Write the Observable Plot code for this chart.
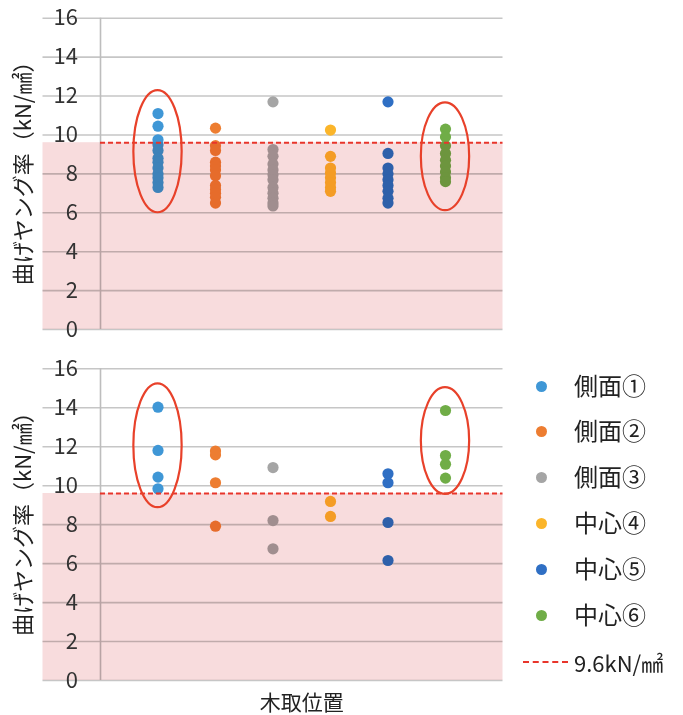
<!DOCTYPE html>
<html><head><meta charset="utf-8">
<script src="https://cdn.jsdelivr.net/npm/d3@7"></script>
<script src="https://cdn.jsdelivr.net/npm/@observablehq/plot@0.6"></script>
<style>
body{margin:0;background:#fff;font-family:"Noto Sans CJK JP","Noto Sans",sans-serif;}
#wrap{position:relative;width:683px;height:715px;overflow:hidden;background:#fff;}
.plot{position:absolute;left:0;}
.leg{position:absolute;left:0;width:683px;height:0;}
.leg .dot{position:absolute;left:536px;width:11px;height:11px;border-radius:50%;margin-top:-5.5px;}
.leg .txt{position:absolute;left:574px;font-size:24px;line-height:24px;margin-top:-13px;color:#222;white-space:nowrap;}
.leg .dash{position:absolute;left:523px;width:45px;height:0;border-top:2px dashed #e8352b;margin-top:-1px;}
</style></head><body><div id="wrap"></div>
<script>
const series = ["側面①","側面②","側面③","中心④","中心⑤","中心⑥"];
const colors = ["#3f97d6","#ed7d31","#a5a5a5","#fbb52a","#2f6fc4","#70ad47"];
const yTicks = [0,2,4,6,8,10,12,14,16];
const threshold = 9.6;
const yTitle = "曲げヤング率（kN/㎟）";
const xTitle = "木取位置";
const thresholdLabel = "9.6kN/㎟";

// upper chart values per series
const top1 = [11.1,10.45,9.75,9.5,9.2,8.8,8.6,8.3,8.0,7.8,7.55,7.3];
const top2 = [10.35,9.45,9.2,8.6,8.4,8.2,7.9,7.4,7.2,7.0,6.8,6.5];
const top3 = [11.7,9.25,8.9,8.5,8.2,7.95,7.7,7.3,7.0,6.75,6.5,6.35];
const top4 = [10.25,8.9,8.3,8.05,7.8,7.55,7.3,7.1];
const top5 = [11.7,9.05,8.3,8.0,7.7,7.4,7.1,6.75,6.5];
const top6 = [10.3,9.9,9.45,9.05,8.7,8.4,8.1,7.8,7.6];
// lower chart values per series
const bot1 = [14.03,11.81,10.44,9.84];
const bot2 = [11.78,11.58,10.15,7.92];
const bot3 = [10.93,8.21,6.76];
const bot4 = [9.19,8.42];
const bot5 = [10.61,10.15,8.11,6.16];
const bot6 = [13.86,11.55,11.1,10.39];

// highlight ellipses (annotation): series position, centre value, half-width (positions), half-height (values)
const topEllipses = [{x:1,y:9.14,rx:0.42,ry:3.14},{x:6,y:8.88,rx:0.42,ry:2.77}];
const botEllipses = [{x:1,y:12.05,rx:0.42,ry:3.18},{x:6,y:12.29,rx:0.42,ry:2.74}];

const font = '"Noto Sans CJK JP","Noto Sans",sans-serif';

function ellipseMark(list){
  return (index, scales) => {
    const g = d3.create("svg:g");
    for (const e of list) {
      const cx = scales.x(e.x), cy = scales.y(e.y);
      const rx = Math.abs(scales.x(e.x + e.rx) - cx);
      const ry = Math.abs(scales.y(e.y + e.ry) - cy);
      g.append("ellipse").attr("cx",cx).attr("cy",cy).attr("rx",rx).attr("ry",ry)
        .attr("fill","none").attr("stroke","#e8412a").attr("stroke-width",2.2);
    }
    return g.node();
  };
}

function makeChart(values, ellipses, o){
  const rows = values.flatMap((vals,i)=>vals.map(v=>({series:series[i], pos:i+1, value:v})));
  const band = [{x1:-1,x2:7,y1:0,y2:threshold}];
  const marks = [
    Plot.ruleY(yTicks, {x1:-1, x2:7, stroke:"#c6c6c6", strokeWidth:1.6}),
    Plot.ruleX([0], {y1:0, y2:16, stroke:"#bdbdbd", strokeWidth:1.6}),
    Plot.dot(rows, {x:"pos", y:"value", fill:"series", r:5.6}),
    Plot.rect(band, {x1:"x1", x2:"x2", y1:"y1", y2:"y2", fill:"#f8dcdd", mixBlendMode:"multiply"}),
    Plot.ruleY([threshold], {x1:0, x2:7, stroke:"#e8352b", strokeWidth:2, strokeDasharray:"5,3"}),
    Plot.text(yTicks, {x:-1, y:d=>d, text:d=>String(d), textAnchor:"end", dx:35, fontSize:22, fill:"#333", lineAnchor:"middle"}),
    Plot.text([yTitle], {frameAnchor:"left", textAnchor:"middle", dx:-19.5, dy:-6, rotate:-90, fontSize:22, fill:"#222", lineAnchor:"middle"}),
    ellipseMark(ellipses)
  ];
  if (o.xLabel) marks.push(Plot.text([xTitle], {x:3.5, y:0, dy:23, fontSize:21, fill:"#222", lineAnchor:"middle"}));
  return Plot.plot({
    width:510, height:o.height,
    marginLeft:42.5, marginRight:7.5, marginTop:o.marginTop, marginBottom:o.marginBottom,
    x:{type:"linear", domain:[-1,7], axis:null},
    y:{domain:[0,16], axis:null},
    color:{domain:series, range:colors},
    style:{fontFamily:font, background:"transparent", overflow:"visible"},
    marks
  });
}

const wrap = document.getElementById("wrap");
const p1 = makeChart([top1,top2,top3,top4,top5,top6], topEllipses, {height:345, marginTop:17.7, marginBottom:16});
p1.classList.add("plot"); p1.style.top = "0px";
wrap.appendChild(p1);
const p2 = makeChart([bot1,bot2,bot3,bot4,bot5,bot6], botEllipses, {height:365, marginTop:18.3, marginBottom:35, xLabel:true});
p2.classList.add("plot"); p2.style.top = "350px";
wrap.appendChild(p2);

// legend
const legY = [386,431,477,523,569,615];
series.forEach((s,i)=>{
  const row = document.createElement("div");
  row.className = "leg"; row.style.top = legY[i] + "px";
  row.innerHTML = `<div class="dot" style="background:${colors[i]}"></div><div class="txt">${s}</div>`;
  wrap.appendChild(row);
});
const lrow = document.createElement("div");
lrow.className = "leg"; lrow.style.top = "662px";
lrow.innerHTML = `<div class="dash"></div><div class="txt" style="font-size:22px;margin-top:-12px">${thresholdLabel}</div>`;
wrap.appendChild(lrow);
</script></body></html>
